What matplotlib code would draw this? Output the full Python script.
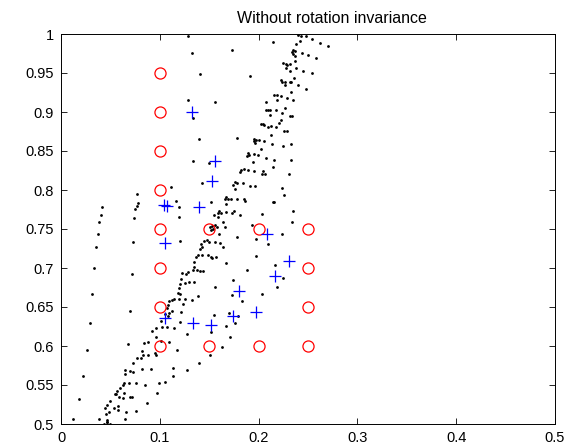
import matplotlib
matplotlib.use("Agg")
import matplotlib.pyplot as plt

# sample points (black dots)
dots_x = [
    0.0412, 0.0408, 0.0388, 0.0378, 0.0357, 0.0337, 0.0314, 0.0297, 0.0260, 0.0226, 0.0182, 0.0125,
    0.0766, 0.0776, 0.0766, 0.0752, 0.0739, 0.0729, 0.0722, 0.0698, 0.0678,
    0.1113, 0.1161, 0.1191, 0.1197,
    0.1290, 0.1322, 0.1404, 0.1290, 0.1339, 0.1393, 0.1339, 0.1430, 0.1515, 0.1550,
    0.1734, 0.1913, 0.1559, 0.1781, 0.2149, 0.1495, 0.1590, 0.1590, 0.1643,
    0.2402, 0.2432, 0.2480, 0.2544, 0.2618, 0.2700, 0.2419, 0.2379,
    0.2350, 0.2340, 0.2365, 0.2345, 0.2443, 0.2503, 0.2578, 0.2372, 0.2365, 0.2244,
    0.2274, 0.2284, 0.2277, 0.2321, 0.2379, 0.2318, 0.2453, 0.2537, 0.2358, 0.2224,
    0.2233, 0.2270, 0.2315, 0.2330, 0.2267, 0.2402, 0.2483, 0.2328, 0.2156, 0.2183,
    0.2227, 0.2287, 0.2189, 0.2345, 0.2078, 0.2264, 0.2092, 0.2078, 0.2115, 0.2173,
    0.2237, 0.2119, 0.2315, 0.2341, 0.2224, 0.2207, 0.2024, 0.2042, 0.2058, 0.2179, 0.2092,
    0.2126, 0.2260, 0.2287, 0.2122, 0.1953, 0.1974, 0.1950, 0.1967, 0.2004, 0.2055,
    0.2139, 0.2244, 0.2331, 0.2024, 0.1893, 0.1883, 0.1900, 0.1953, 0.1997, 0.2075,
    0.1943, 0.2159, 0.2325, 0.1855, 0.1818, 0.1815, 0.1889, 0.1953, 0.2048, 0.2065,
    0.2038, 0.2149, 0.2304, 0.1757, 0.1784, 0.1738, 0.1839, 0.1910, 0.1967, 0.1757,
    0.2237, 0.2254, 0.1667, 0.1693, 0.1660, 0.1721, 0.1781, 0.1855, 0.1862, 0.2153,
    0.1673, 0.1602, 0.1619, 0.1670, 0.1748, 0.1734, 0.1812, 0.2034, 0.2345,
    0.1508, 0.1531, 0.1559, 0.1579, 0.1660, 0.1542, 0.1515, 0.1599, 0.1780, 0.1208,
    0.1447, 0.1474, 0.1495, 0.1417, 0.1559, 0.1612, 0.1643, 0.1424, 0.1404, 0.1383,
    0.1427, 0.1366, 0.1485, 0.1515, 0.1566, 0.1525, 0.1343, 0.1670, 0.1886, 0.1350,
    0.1333, 0.1380, 0.1407, 0.1440, 0.1285, 0.1265, 0.1222, 0.1744, 0.1215, 0.1208,
    0.1255, 0.1299, 0.1343, 0.1559, 0.1194, 0.1184, 0.1201, 0.1383, 0.1727, 0.1144,
    0.1194, 0.1258, 0.1329, 0.1829, 0.1093, 0.1120, 0.1238, 0.1086, 0.1073, 0.1127,
    0.1093, 0.1215, 0.1700, 0.1056, 0.1080, 0.1788, 0.1552,
    0.2149, 0.2335, 0.1930, 0.1974, 0.2234, 0.2092, 0.1974, 0.2169, 0.2244, 0.2189, 0.2038,
    0.1757, 0.1673, 0.1714, 0.1630, 0.1508, 0.1394, 0.1278, 0.1130, 0.1137, 0.1053,
    0.0989, 0.0968, 0.0874, 0.0759, 0.1280, 0.1174, 0.1096,
    0.1009, 0.1019, 0.1073, 0.1144, 0.0962, 0.1208, 0.1518, 0.1012, 0.0955, 0.0962,
    0.0388, 0.0438, 0.0462, 0.0499, 0.0918, 0.0962, 0.0881, 0.0840, 0.0816, 0.0830,
    0.0884, 0.0810, 0.0766, 0.0729, 0.0823, 0.0908, 0.0698, 0.0725, 0.0645, 0.0648,
    0.0638, 0.0624, 0.0691, 0.0762, 0.0850, 0.0600, 0.0570, 0.0641, 0.0547, 0.0560,
    0.0584, 0.0496, 0.0631, 0.0698, 0.0715, 0.0462, 0.0449, 0.0536, 0.0580, 0.0577,
    0.0489, 0.0452, 0.0658, 0.0651, 0.0462, 0.0469,
]
dots_y = [
    0.778, 0.768, 0.759, 0.744, 0.727, 0.700, 0.667, 0.630, 0.595, 0.562, 0.532, 0.506,
    0.795, 0.783, 0.780, 0.776, 0.764, 0.733, 0.692, 0.645, 0.603,
    0.804, 0.786, 0.778, 0.766,
    0.998, 0.976, 0.949, 0.916, 0.892, 0.866, 0.837, 0.809, 0.785, 0.768,
    0.980, 0.946, 0.913, 0.867, 0.990, 0.834, 0.771, 0.766, 0.759,
    0.999, 0.998, 0.997, 0.993, 0.988, 0.984, 0.991, 0.987,
    0.979, 0.977, 0.978, 0.974, 0.976, 0.973, 0.969, 0.972, 0.966, 0.963,
    0.962, 0.960, 0.957, 0.961, 0.957, 0.953, 0.953, 0.950, 0.944, 0.941,
    0.938, 0.939, 0.938, 0.938, 0.934, 0.934, 0.930, 0.926, 0.922, 0.922,
    0.920, 0.918, 0.916, 0.916, 0.913, 0.905, 0.903, 0.902, 0.903, 0.902,
    0.899, 0.896, 0.895, 0.895, 0.890, 0.886, 0.884, 0.885, 0.883, 0.881, 0.881,
    0.8825, 0.876, 0.875, 0.871, 0.866, 0.864, 0.863, 0.860, 0.864, 0.863,
    0.859, 0.856, 0.859, 0.853, 0.847, 0.844, 0.845, 0.846, 0.845, 0.841,
    0.836, 0.838, 0.839, 0.827, 0.826, 0.823, 0.826, 0.824, 0.824, 0.821,
    0.821, 0.830, 0.8205, 0.810, 0.809, 0.807, 0.8085, 0.8055, 0.8055, 0.8017,
    0.8026, 0.794, 0.791, 0.789, 0.788, 0.789, 0.788, 0.7885, 0.786, 0.785,
    0.7824, 0.773, 0.771, 0.772, 0.773, 0.770, 0.768, 0.769, 0.773,
    0.753, 0.754, 0.755, 0.7525, 0.753, 0.750, 0.749, 0.743, 0.740, 0.735,
    0.735, 0.7355, 0.733, 0.731, 0.733, 0.7317, 0.727, 0.727, 0.7247, 0.7167,
    0.7167, 0.7137, 0.717, 0.7137, 0.7137, 0.7124, 0.7073, 0.706, 0.698, 0.7017,
    0.6974, 0.6974, 0.6966, 0.6966, 0.695, 0.692, 0.693, 0.6846, 0.6855, 0.680,
    0.681, 0.6825, 0.682, 0.676, 0.6744, 0.6683, 0.6667, 0.6645, 0.6654, 0.6607,
    0.6607, 0.660, 0.659, 0.6577, 0.6573, 0.659, 0.6535, 0.6526, 0.6483, 0.6445,
    0.6427, 0.644, 0.6427, 0.6406, 0.638, 0.638, 0.6397,
    0.7842, 0.7594, 0.7547, 0.7376, 0.744, 0.7312, 0.715, 0.7035, 0.6876, 0.676, 0.6667,
    0.630, 0.6256, 0.6111, 0.5983, 0.588, 0.5786, 0.569, 0.5722, 0.562, 0.5542,
    0.5526, 0.5393, 0.5273, 0.5167, 0.616, 0.5953, 0.6047,
    0.6324, 0.6247, 0.6247, 0.6235, 0.6227, 0.6312, 0.6183, 0.6064, 0.5914, 0.5885,
    0.5068, 0.500, 0.502, 0.5004, 0.6192, 0.612, 0.6056, 0.6043, 0.5936, 0.5889,
    0.5889, 0.585, 0.5842, 0.5786, 0.5705, 0.5701, 0.5676, 0.567, 0.5692, 0.564,
    0.552, 0.5504, 0.552, 0.552, 0.550, 0.5458, 0.5427, 0.5401, 0.5385, 0.539,
    0.5342, 0.5299, 0.5337, 0.534, 0.534, 0.524, 0.5201, 0.5209, 0.523, 0.518,
    0.5154, 0.5132, 0.5154, 0.506, 0.5051, 0.5022,
]

# grid of reference positions (red circles)
ref_x = [0.10, 0.10, 0.10, 0.10, 0.10, 0.10, 0.10, 0.10,
         0.15, 0.15, 0.20, 0.20,
         0.25, 0.25, 0.25, 0.25]
ref_y = [0.95, 0.90, 0.85, 0.80, 0.75, 0.70, 0.65, 0.60,
         0.75, 0.60, 0.75, 0.60,
         0.75, 0.70, 0.65, 0.60]

# estimates (blue crosses)
est_x = [0.133, 0.156, 0.153, 0.140, 0.104, 0.107, 0.105, 0.105,
         0.209, 0.231, 0.217, 0.180, 0.174, 0.197, 0.134, 0.152]
est_y = [0.900, 0.837, 0.812, 0.778, 0.781, 0.780, 0.732, 0.636,
         0.743, 0.709, 0.690, 0.670, 0.639, 0.644, 0.629, 0.627]

x_ticks = [0, 0.1, 0.2, 0.3, 0.4, 0.5]
x_labels = ["0", "0.1", "0.2", "0.3", "0.4", "0.5"]
y_ticks = [0.5, 0.55, 0.6, 0.65, 0.7, 0.75, 0.8, 0.85, 0.9, 0.95, 1.0]
y_labels = ["0.5", "0.55", "0.6", "0.65", "0.7", "0.75", "0.8", "0.85", "0.9", "0.95", "1"]

plt.rcParams["font.family"] = ["Liberation Sans", "DejaVu Sans"]

fig = plt.figure(figsize=(5.77, 4.48), dpi=100)
ax = fig.add_axes([61 / 577, 1 - 424 / 448, 494 / 577, 390 / 448])

ax.plot(dots_x, dots_y, linestyle="none", marker="o", markersize=2.0,
        color="black", markeredgewidth=0)
ax.plot(ref_x, ref_y, linestyle="none", marker="o", markersize=8,
        markerfacecolor="none", markeredgecolor="red", markeredgewidth=0.9)
ax.plot(est_x, est_y, linestyle="none", marker="+", markersize=8,
        color="blue", markeredgewidth=0.9)

ax.set_xlim(0, 0.5)
ax.set_ylim(0.5, 1.0)
ax.set_xticks(x_ticks)
ax.set_xticklabels(x_labels)
ax.set_yticks(y_ticks)
ax.set_yticklabels(y_labels)
ax.tick_params(direction="in", length=4, width=0.6, labelsize=10.5,
               top=True, right=True, pad=5)
for sp in ax.spines.values():
    sp.set_linewidth(0.7)

ax.set_title("Without rotation invariance", fontsize=11.5, x=0.549, pad=8)

fig.savefig("out.png", dpi=100)
